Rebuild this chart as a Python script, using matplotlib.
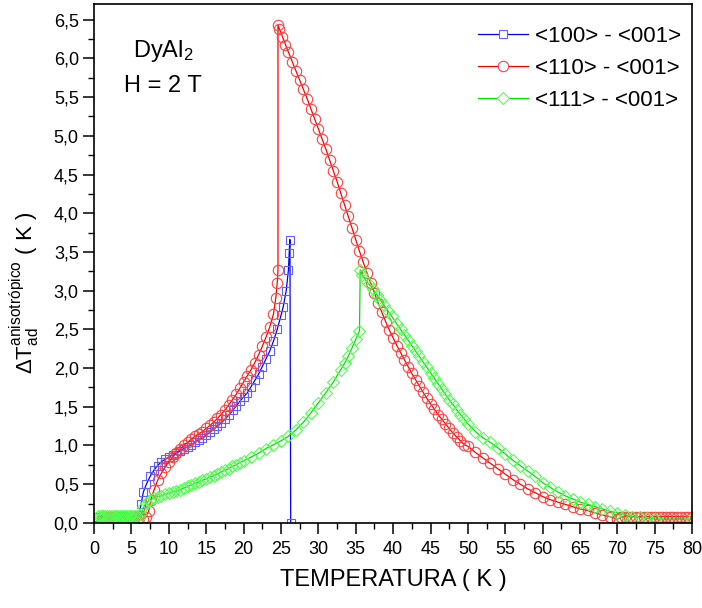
import matplotlib
matplotlib.use("Agg")
import matplotlib.pyplot as plt
from matplotlib.lines import Line2D
from matplotlib.ticker import MultipleLocator, FuncFormatter

plt.rcParams["font.family"] = ["Liberation Sans", "DejaVu Sans"]
plt.rcParams["mathtext.fontset"] = "custom"
plt.rcParams["mathtext.rm"] = "Liberation Sans"
plt.rcParams["mathtext.it"] = "Liberation Sans"

# <100> - <001>
t_100 = [0.5, 1.0, 1.5, 2.0, 2.5, 3.0, 3.5, 4.0, 4.5, 5.0, 5.5, 6.0, 6.3, 6.6, 7.0, 7.5,
         8.0, 8.5, 9.0, 9.5, 10.0, 10.5, 11.0, 11.5, 12.0, 12.5, 13.0, 13.5, 14.0, 14.5,
         15.0, 15.5, 16.0, 16.5, 17.0, 17.5, 18.0, 18.6, 19.0, 19.5, 20.0, 20.5, 21.0,
         21.5, 22.0, 22.5, 23.0, 23.5, 24.0, 24.5, 25.0, 25.3, 25.7, 26.0, 26.1, 26.2, 26.3]
d_100 = [0.08, 0.08, 0.08, 0.08, 0.08, 0.08, 0.08, 0.08, 0.08, 0.08, 0.09, 0.1, 0.25, 0.4,
         0.5, 0.6, 0.68, 0.74, 0.79, 0.82, 0.85, 0.88, 0.9, 0.93, 0.96, 0.98, 1.01, 1.04,
         1.07, 1.1, 1.13, 1.17, 1.21, 1.25, 1.29, 1.34, 1.39, 1.46, 1.51, 1.57, 1.63, 1.68,
         1.76, 1.84, 1.92, 2.02, 2.12, 2.22, 2.35, 2.5, 2.68, 2.79, 3.0, 3.27, 3.49, 3.66, 0.0]

# <110> - <001>
t_110 = [1.0, 1.5, 2.0, 2.5, 3.0, 3.5, 4.0, 4.5, 5.0, 5.5, 6.0, 6.5, 7.0, 7.3, 7.6, 8.0,
         8.5, 9.0, 9.5, 10.0, 10.5, 11.0, 11.5, 12.0, 12.5, 13.0, 13.5, 14.0, 14.5, 15.0,
         15.5, 16.0, 16.5, 17.0, 17.5, 18.0, 18.5, 19.0, 19.5, 20.0, 20.5, 21.0, 21.5,
         22.0, 22.5, 23.0, 23.5, 24.0, 24.3, 24.5, 24.6,
         24.6, 24.8, 25.2, 25.6, 26.0, 26.5, 27.0, 27.5, 28.0, 28.5, 29.0, 29.5, 30.0,
         30.5, 31.0, 31.5, 32.0, 32.5, 33.0, 33.5, 34.0, 34.5, 35.0, 35.5, 36.0, 36.5,
         37.0, 37.5, 38.0, 38.5, 39.0, 39.5, 40.0, 40.5, 41.0, 41.5, 42.0, 42.5, 43.0,
         43.5, 44.0, 44.5, 45.0, 45.5, 46.0, 46.5, 47.0, 47.5, 48.0, 48.5, 49.0, 49.5,
         50.0, 51.0, 52.0, 53.0, 54.0, 55.0, 56.0, 57.0, 58.0, 59.0, 60.0, 61.0, 62.0,
         63.0, 64.0, 65.0, 66.0, 67.0, 68.0, 69.0, 70.0, 70.5, 71.0, 71.5, 72.0, 72.5,
         73.0, 73.5, 74.0, 74.5, 75.0, 75.5, 76.0, 76.5, 77.0, 77.5, 78.0, 78.5, 79.0,
         79.5, 80.0]
d_110 = [0.08, 0.08, 0.08, 0.08, 0.08, 0.08, 0.08, 0.08, 0.08, 0.08, 0.06, 0.05, 0.08,
         0.15, 0.3, 0.42, 0.55, 0.64, 0.72, 0.79, 0.85, 0.9, 0.95, 1.0, 1.04, 1.08, 1.12,
         1.15, 1.18, 1.22, 1.26, 1.3, 1.35, 1.4, 1.46, 1.52, 1.59, 1.66, 1.74, 1.82, 1.9,
         1.98, 2.07, 2.17, 2.28, 2.4, 2.53, 2.7, 2.9, 3.1, 3.27,
         6.43, 6.38, 6.28, 6.18, 6.08, 5.96, 5.84, 5.72, 5.6, 5.48, 5.35, 5.22, 5.09,
         4.96, 4.83, 4.69, 4.55, 4.41, 4.26, 4.11, 3.96, 3.81, 3.66, 3.51, 3.37, 3.23,
         3.1, 2.97, 2.84, 2.72, 2.6, 2.49, 2.39, 2.29, 2.2, 2.11, 2.02, 1.93, 1.85,
         1.77, 1.69, 1.61, 1.54, 1.47, 1.4, 1.34, 1.28, 1.22, 1.16, 1.11, 1.06, 1.01,
         0.99, 0.91, 0.84, 0.77, 0.7, 0.63, 0.56, 0.5, 0.44, 0.39, 0.34, 0.3, 0.27,
         0.24, 0.21, 0.18, 0.16, 0.13, 0.1, 0.08, 0.05, 0.07, 0.08, 0.08, 0.08, 0.08,
         0.08, 0.08, 0.08, 0.08, 0.08, 0.08, 0.08, 0.08, 0.08, 0.08, 0.08, 0.08, 0.08,
         0.08, 0.08]

# <111> - <001>
t_111 = [0.5, 0.75, 1.0, 1.25, 1.5, 1.75, 2.0, 2.25, 2.5, 2.75, 3.0, 3.25, 3.5, 3.75,
         4.0, 4.25, 4.5, 4.75, 5.0, 5.25, 5.5, 5.75, 6.0, 6.3, 6.6, 7.0, 7.5, 8.0, 8.5,
         9.0, 9.5, 10.0, 10.5, 11.0, 11.5, 12.0, 12.5, 13.0, 13.5, 14.0, 14.5, 15.0,
         15.5, 16.0, 16.5, 17.0, 17.5, 18.0, 18.5, 19.0, 19.5, 20.0, 21.0, 22.0, 23.0,
         24.0, 25.0, 26.0, 27.0, 28.0, 29.0, 30.0, 31.0, 32.0, 33.0, 33.5, 34.0, 34.5,
         35.0, 35.5, 35.6, 35.9, 36.3, 36.8, 37.3, 37.8, 38.3, 38.8, 39.3, 39.8, 40.5,
         41.0, 41.5, 42.0, 42.5, 43.0, 43.5, 44.0, 44.5, 45.0, 45.5, 46.0, 46.5, 47.0,
         47.5, 48.0, 48.5, 49.0, 49.5, 50.0, 51.0, 52.0, 53.0, 54.0, 55.0, 56.0, 57.0,
         58.0, 59.0, 60.0, 61.0, 62.0, 63.0, 64.0, 65.0, 66.0, 67.0, 68.0, 69.0, 70.0,
         71.0, 72.0, 73.0, 74.0, 75.0, 80.0]
d_111 = [0.09, 0.09, 0.09, 0.09, 0.09, 0.09, 0.09, 0.09, 0.09, 0.09, 0.09, 0.09, 0.09,
         0.09, 0.09, 0.09, 0.09, 0.09, 0.09, 0.09, 0.09, 0.09, 0.06, 0.12, 0.2, 0.26,
         0.3, 0.32, 0.34, 0.35, 0.37, 0.38, 0.4, 0.41, 0.43, 0.45, 0.47, 0.49, 0.51,
         0.53, 0.55, 0.57, 0.59, 0.61, 0.63, 0.66, 0.68, 0.7, 0.73, 0.75, 0.78, 0.8,
         0.85, 0.9, 0.96, 1.01, 1.06, 1.12, 1.2, 1.3, 1.42, 1.55, 1.68, 1.82, 1.98,
         2.06, 2.15, 2.26, 2.37, 2.48, 3.27, 3.2, 3.14, 3.08, 3.02, 2.95, 2.88, 2.81,
         2.74, 2.67, 2.57, 2.5, 2.43, 2.36, 2.29, 2.22, 2.15, 2.08, 2.01, 1.94, 1.87,
         1.8, 1.73, 1.66, 1.59, 1.53, 1.46, 1.4, 1.34, 1.28, 1.18, 1.1, 1.04, 0.97,
         0.89, 0.81, 0.74, 0.67, 0.6, 0.52, 0.46, 0.4, 0.35, 0.31, 0.27, 0.24, 0.21,
         0.18, 0.15, 0.13, 0.1, 0.08, 0.07, 0.06, 0.05, 0.05]

series = [
    (t_100, d_100, "blue", "s", 6, "#6060ff", "<100> - <001>"),
    (t_110, d_110, "red", "o", 7.5, "#ff4040", "<110> - <001>"),
    (t_111, d_111, "#00e000", "D", 6.5, "#50ff50", "<111> - <001>"),
]

fig = plt.figure(figsize=(7.02, 6.08), dpi=100)
ax = fig.add_axes([0.134, 0.140, 0.852, 0.853])

handles = []
for t, d, col, mk, ms, mec, lab in series:
    ax.plot(t, d, color=col, lw=0.9, marker=mk, ms=ms, mfc="none", mec=mec, mew=0.8)
    handles.append(Line2D([], [], color=col, lw=0.9, marker=mk, ms=ms, mfc="white",
                          mec=mec, mew=0.8, label=lab))

ax.set_xlim(0, 80)
ax.set_ylim(0, 6.7)
ax.xaxis.set_major_locator(MultipleLocator(5))
ax.xaxis.set_minor_locator(MultipleLocator(2.5))
ax.yaxis.set_major_locator(MultipleLocator(0.5))
ax.yaxis.set_minor_locator(MultipleLocator(0.25))
ax.yaxis.set_major_formatter(FuncFormatter(lambda v, p: f"{v:.1f}".replace(".", ",")))
ax.tick_params(which="major", direction="out", length=8, width=1.1, labelsize=13, pad=3)
ax.tick_params(axis="x", which="major", pad=5)
ax.tick_params(which="minor", direction="out", length=4, width=1.0)
for s in ax.spines.values():
    s.set_linewidth(1.2)

ax.set_xlabel("TEMPERATURA ( K )", fontsize=17, labelpad=8)
ax.set_ylabel(r"$\Delta\mathrm{T}_{\mathrm{ad}}^{\mathrm{anisotrópico}}$ ( K )",
              fontsize=16)
ax.yaxis.set_label_coords(-0.087, 0.443)

ax.text(9.2, 6.10, r"DyAl$_2$", fontsize=17, ha="center", va="center")
ax.text(9.2, 5.64, "H = 2 T", fontsize=17, ha="center", va="center")

ax.legend(handles=handles, loc="upper left", bbox_to_anchor=(0.642, 0.9586),
          frameon=False, fontsize=16, handlelength=2.25, borderaxespad=0,
          borderpad=0, labelspacing=0.5, handletextpad=0.33)

fig.savefig("out.png", dpi=100)
